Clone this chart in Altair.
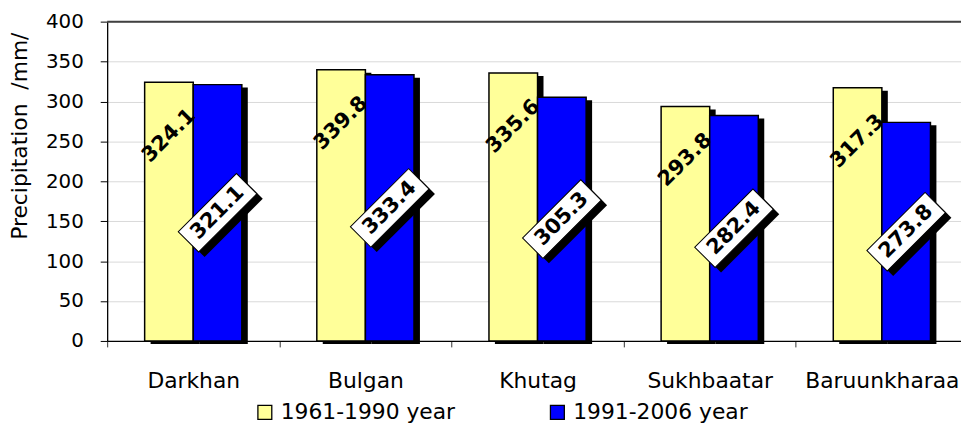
import altair as alt
import pandas as pd

# ---- data ----
cats = ["Darkhan", "Bulgan", "Khutag", "Sukhbaatar", "Baruunkharaa"]
series_names = ["1961-1990 year", "1991-2006 year"]
p_1961_1990 = [324.1, 339.8, 335.6, 293.8, 317.3]
p_1991_2006 = [321.1, 333.4, 305.3, 282.4, 273.8]
y_ticks = [0, 50, 100, 150, 200, 250, 300, 350, 400]
colors = ["#FFFF99", "#0000FF"]

rows = []
for i, c in enumerate(cats):
    rows.append({"cat": c, "series": series_names[0], "value": p_1961_1990[i]})
    rows.append({"cat": c, "series": series_names[1], "value": p_1991_2006[i]})
df = pd.DataFrame(rows)

FONT = "DejaVu Sans"
BAR = 49
OFF = BAR / 2
BOX = "M-1,-0.35L1,-0.35L1,0.35L-1,0.35Z"

x_enc = alt.X(
    "cat:N",
    sort=cats,
    scale=alt.Scale(domain=cats, range=[0, 868], paddingInner=0, paddingOuter=0),
    axis=alt.Axis(
        title=None, labelAngle=0, labelFont=FONT, labelFontSize=22, labelColor="black",
        tickBand="extent", tickSize=6, tickColor="#333333", labelPadding=24,
        domainColor="black", domainWidth=1.3, grid=False,
    ),
)

y_axis = alt.Axis(
    values=y_ticks, title="Precipitation\u00a0\u00a0/mm/", titleFont=FONT, titleFontSize=22,
    titleFontWeight="normal", titleColor="black", titleX=-76, titleY=115,
    titleAngle=270, titleBaseline="bottom", titleAlign="center",
    labelFont=FONT, labelFontSize=20, labelColor="black", labelPadding=17,
    tickSize=7, tickColor="black", domainColor="black", domainWidth=1.3,
    grid=True, gridColor="#d9d9d9", gridWidth=1,
)
y_scale = alt.Scale(domain=[0, 400], nice=False)


def yenc(field):
    return alt.Y(f"{field}:Q", scale=y_scale, axis=y_axis)


color_enc = alt.Color(
    "series:N",
    scale=alt.Scale(domain=series_names, range=colors),
    legend=alt.Legend(
        title=None, orient="none", legendX=148, legendY=383, direction="horizontal",
        columns=2, columnPadding=92, symbolType="square", symbolSize=196,
        symbolStrokeColor="black", symbolStrokeWidth=1.3, labelFont=FONT,
        labelFontSize=22, labelColor="black", labelOffset=5, labelLimit=400,
    ),
)

base = alt.Chart(df)
layers = []
for idx, name in enumerate(series_names):
    off = -OFF if idx == 0 else OFF
    sub = base.transform_filter(alt.datum.series == name)
    shadow = sub.mark_bar(
        size=BAR, color="black", xOffset=off + 6, x2Offset=off + 6, yOffset=3, y2Offset=3
    ).encode(x=x_enc, y=yenc("value"))
    bar = sub.mark_bar(
        size=BAR, stroke="black", strokeWidth=1.5, xOffset=off, x2Offset=off
    ).encode(x=x_enc, y=yenc("value"), color=color_enc)
    layers += [shadow, bar]

# top frame line
frame = alt.Chart(pd.DataFrame({"v": [400]})).mark_rule(color="#404040", strokeWidth=2).encode(
    y=yenc("v")
)

# labels for first series (inside end, rotated)
lab1 = base.transform_filter(alt.datum.series == series_names[0]).mark_text(
    angle=315, font=FONT, fontSize=21, fontWeight="bold", color="black",
    align="center", baseline="middle", xOffset=-OFF, yOffset=54,
).encode(x=x_enc, y=yenc("value"), text=alt.Text("value:Q", format=".1f"))

# labels for second series (boxed, centered)
sub2 = base.transform_filter(alt.datum.series == series_names[1]).transform_calculate(
    half="datum.value / 2"
)
box_shadow = sub2.mark_point(
    shape=BOX, size=6889, angle=315, filled=True, fill="black", strokeWidth=0,
    opacity=1, xOffset=OFF + 6, yOffset=5,
).encode(x=x_enc, y=yenc("half"))
box = sub2.mark_point(
    shape=BOX, size=6889, angle=315, filled=True, fill="white", stroke="black",
    strokeWidth=1, opacity=1, xOffset=OFF,
).encode(x=x_enc, y=yenc("half"))
lab2 = sub2.mark_text(
    angle=315, font=FONT, fontSize=21, fontWeight="bold", color="black",
    align="center", baseline="middle", xOffset=OFF,
).encode(x=x_enc, y=yenc("half"), text=alt.Text("value:Q", format=".1f"))

chart = alt.layer(frame, *layers, lab1, box_shadow, box, lab2).properties(
    width=861,
    height=322,
    autosize=alt.AutoSizeParams(type="none"),
    padding={"left": 100, "top": 12, "right": 0, "bottom": 83},
).configure_view(stroke=None)

chart.save("out.html", embed_options={"renderer": "svg", "actions": False})
